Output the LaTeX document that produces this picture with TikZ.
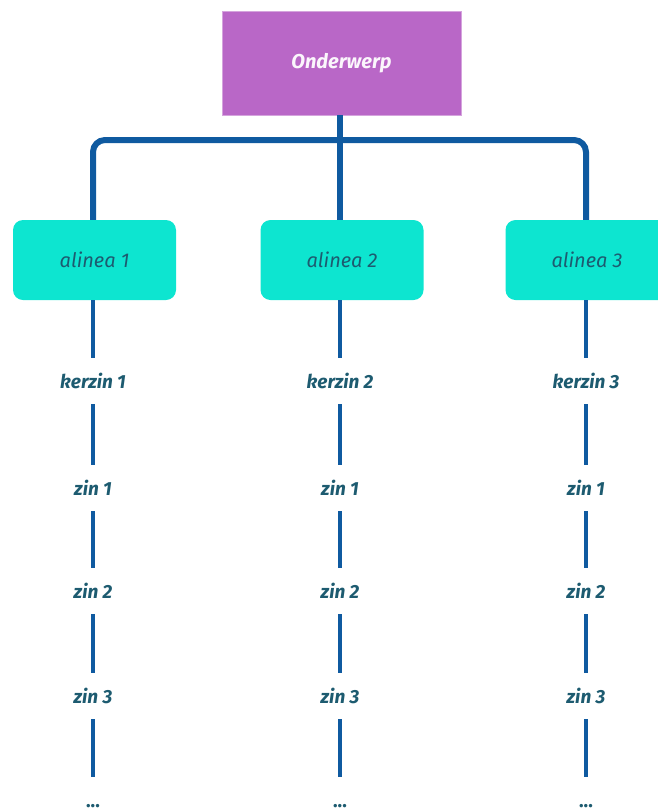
\documentclass[tikz,border=0pt]{standalone}
\usepackage{fontspec}
\setmainfont{Fira Sans}
\definecolor{linecol}{HTML}{0F5AA0}
\definecolor{txtcol}{HTML}{1D5B70}
\definecolor{topfill}{HTML}{B967C7}
\definecolor{boxfill}{HTML}{0DE5D0}
\tikzset{
  topbox/.style={fill=topfill, draw=topfill!60!white, minimum width=239pt, minimum height=104pt, inner sep=0pt,
    font=\fontsize{20}{24}\selectfont\bfseries\itshape, text=white!94!topfill},
  parbox/.style={fill=boxfill, rounded corners=10pt, minimum width=163pt, minimum height=80pt, inner sep=0pt,
    font=\fontsize{20}{24}\selectfont\itshape, text=txtcol},
  lbl/.style={minimum height=46pt, inner sep=0pt, font=\fontsize{19}{23}\selectfont\bfseries\itshape, text=txtcol},
  dotlbl/.style={minimum height=58pt, inner sep=0pt, font=\fontsize{19}{23}\selectfont\bfseries, text=txtcol},
  conn/.style={draw=linecol, line width=6pt, rounded corners=12pt},
  seg/.style={draw=linecol, line width=4pt}
}
\begin{document}
\begin{tikzpicture}[x=1pt,y=-1pt]
\useasboundingbox (0,0) rectangle (657,812);
\node[topbox] (top) at (341.5,63) {Onderwerp};
\coordinate (bar) at (340,140);
\node[parbox] (a1) at (94.5,260) {alinea 1};
\node[parbox] (a2) at (342,260) {alinea 2};
\node[parbox] (a3) at (587,260) {alinea 3};
\draw[conn] (a1.north -| 93,0) |- (bar) -| (a3.north -| 586,0);
\draw[conn] (top.south -| 340,0) -- (a2.north -| 340,0);
\foreach \i/\x in {1/93,2/340,3/586}{
  \node[lbl] (k\i) at (\x,381) {kerzin \i};
  \node[lbl] (za\i) at (\x,488) {zin 1};
  \node[lbl] (zb\i) at (\x,591) {zin 2};
  \node[lbl] (zc\i) at (\x,696) {zin 3};
  \node[dotlbl] (d\i) at (\x,806) {...};
  \draw[seg] (a\i.south -| k\i) -- (k\i.north);
  \draw[seg] (k\i) -- (za\i);
  \draw[seg] (za\i) -- (zb\i);
  \draw[seg] (zb\i) -- (zc\i);
  \draw[seg] (zc\i) -- (d\i);
}
\end{tikzpicture}
\end{document}
